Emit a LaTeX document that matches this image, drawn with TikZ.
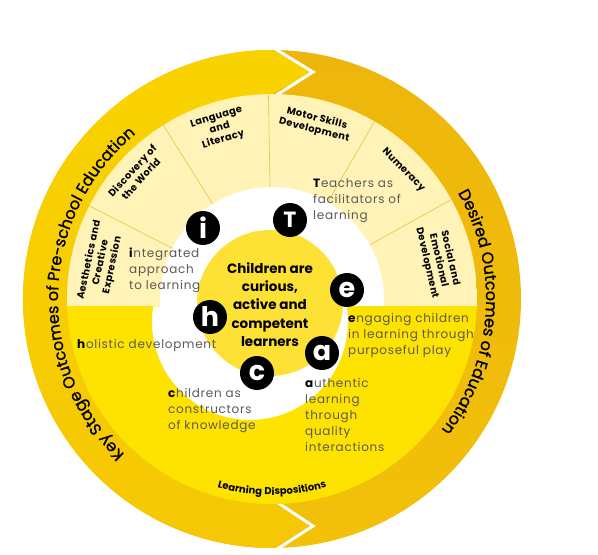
\documentclass[tikz,border=0pt]{standalone}
\usepackage{fontspec}
\setmainfont{Poppins}
\newfontfamily\descfont[LetterSpace=6]{Poppins}
\newfontfamily\segfont[LetterSpace=4]{Poppins}
\newfontfamily\ringfont[FakeBold=1]{Poppins}
\usetikzlibrary{decorations.text}

\definecolor{ringgold}{HTML}{EDB60C}
\definecolor{ringgoldlow}{HTML}{F2C109}
\definecolor{ringyellow}{HTML}{F9D300}
\definecolor{ringyellowlow}{HTML}{F5C704}
\definecolor{seglight}{HTML}{FFF3B8}
\definecolor{segdark}{HTML}{FDE577}
\definecolor{segline}{HTML}{E6C23C}
\definecolor{bandyellow}{HTML}{FFE300}
\definecolor{coreyellow}{HTML}{FDE134}
\definecolor{textgray}{HTML}{5A5A5A}

\pgfdeclareradialshading{segglow}{\pgfpoint{0bp}{0bp}}{color(0bp)=(seglight); color(27bp)=(seglight); color(50bp)=(segdark)}

\newcommand{\lead}[1]{\textcolor{black}{\textbf{#1}}}

\tikzset{
  desc/.style={anchor=base west, align=left, inner sep=0pt, text=textgray,
    font=\descfont\fontsize{12}{16}\selectfont},
  seglabel/.style={align=center, inner sep=0pt, font=\segfont\bfseries\fontsize{9.8}{11.8}\selectfont},
  letterdot/.style={circle, fill=black, minimum size=34pt, inner sep=0pt, text=white,
    font=\bfseries\fontsize{27}{27}\selectfont},
  chevron/.style={white, line width=3pt}
}

\begin{document}
\begin{tikzpicture}[x=1pt,y=1pt]
    \useasboundingbox (-272,-256) rectangle (326,299);

    % outer ring, gold half and yellow half with the two arrow tips
    \shade[top color=ringgold, bottom color=ringgoldlow] (0,0) circle (249);
    \shade[top color=ringyellow, bottom color=ringyellowlow]
        (90:249) -- (41,227) -- (90.5:204) arc[start angle=90.5, end angle=270, radius=204]
        -- (41,-227) -- (270.5:249) arc[start angle=270.5, end angle=90, radius=249] -- cycle;
    \draw[chevron] (90:252) -- (41,227) -- (90.5:200);
    \draw[chevron] (270:200) -- (41,-227) -- (270.5:252);

    % middle area
    \fill[white] (0,0) circle (204);
    \begin{scope}
        \clip (-210,-7) rectangle (210,210);
        \shade[shading=segglow, even odd rule] (0,0) circle (205) (0,0) circle (112);
        \foreach \a in {29,60,91,122,153}
            \draw[segline, line width=0.6pt] (\a:112) -- (\a:205);
    \end{scope}
    \begin{scope}
        \clip (-210,-7) rectangle (210,-210);
        \fill[bandyellow, even odd rule] (0,0) circle (205) (-22,-23) circle (98);
    \end{scope}
    \fill[coreyellow] (-2,-4) circle (73);

    % ring texts
    \path[decorate, decoration={text along path, text align=center,
        text={|\ringfont\fontsize{16}{19}\selectfont|Key Stage Outcomes of Pre-school Education}}]
        (270:214) arc[start angle=270, end angle=86, radius=214];
    \path[decorate, decoration={text along path, text align=center,
        text={|\ringfont\fontsize{16}{19}\selectfont|Desired Outcomes of Education}}]
        (50:214) arc[start angle=50, end angle=-58, radius=214];
    \path[decorate, decoration={text along path, text align=center,
        text={|\segfont\bfseries\fontsize{10}{12}\selectfont|Learning Dispositions}}]
        (-130:196) arc[start angle=-130, end angle=-50, radius=196];

    % learning areas
    \node[seglabel, rotate=78] (aesthetics) at (168:175) {Aesthetics and\\Creative\\Expression};
    \node[seglabel, rotate=47.5] (discovery) at (137.5:184) {Discovery of\\the World};
    \node[seglabel, rotate=17] (language) at (107:178) {Language\\and\\Literacy};
    \node[seglabel, rotate=-14] (motor) at (76:180) {Motor Skills\\Development};
    \node[seglabel, rotate=-45.5] (numeracy) at (44.5:184) {Numeracy};
    \node[seglabel, rotate=-77] (social) at (13:171) {Social and\\Emotional\\Development};

    % centre
    \node[align=center, inner sep=0pt, font=\bfseries\fontsize{13.5}{18.2}\selectfont] (core)
        at (-2,-5.5) {Children are\\curious,\\active and\\competent\\learners};

    \node[letterdot] (i) at (-69,71) {i};
    \node[letterdot, font=\bfseries\fontsize{22}{22}\selectfont] (T) at (18,79) {T};
    \node[letterdot] (e) at (75,9) {e};
    \node[letterdot] (h) at (-62,-18) {h};
    \node[letterdot] (a) at (50,-54) {a};
    \node[letterdot] (c) at (-15,-74) {c};

    % principles (anchored on the last line)
    \node[desc] (integrated) at (-143,10) {\lead{i}ntegrated\\approach\\to learning};
    \node[desc] (teachers) at (41,80) {\lead{T}eachers as\\facilitators of\\learning};
    \node[desc] (engaging) at (76,-55) {\lead{e}ngaging children\\in learning through\\purposeful play};
    \node[desc] (holistic) at (-195,-49) {\lead{h}olistic development};
    \node[desc] (authentic) at (33,-152) {\lead{a}uthentic\\learning\\through\\quality\\interactions};
    \node[desc] (children) at (-104,-130) {\lead{c}hildren as\\constructors\\of knowledge};
\end{tikzpicture}
\end{document}
